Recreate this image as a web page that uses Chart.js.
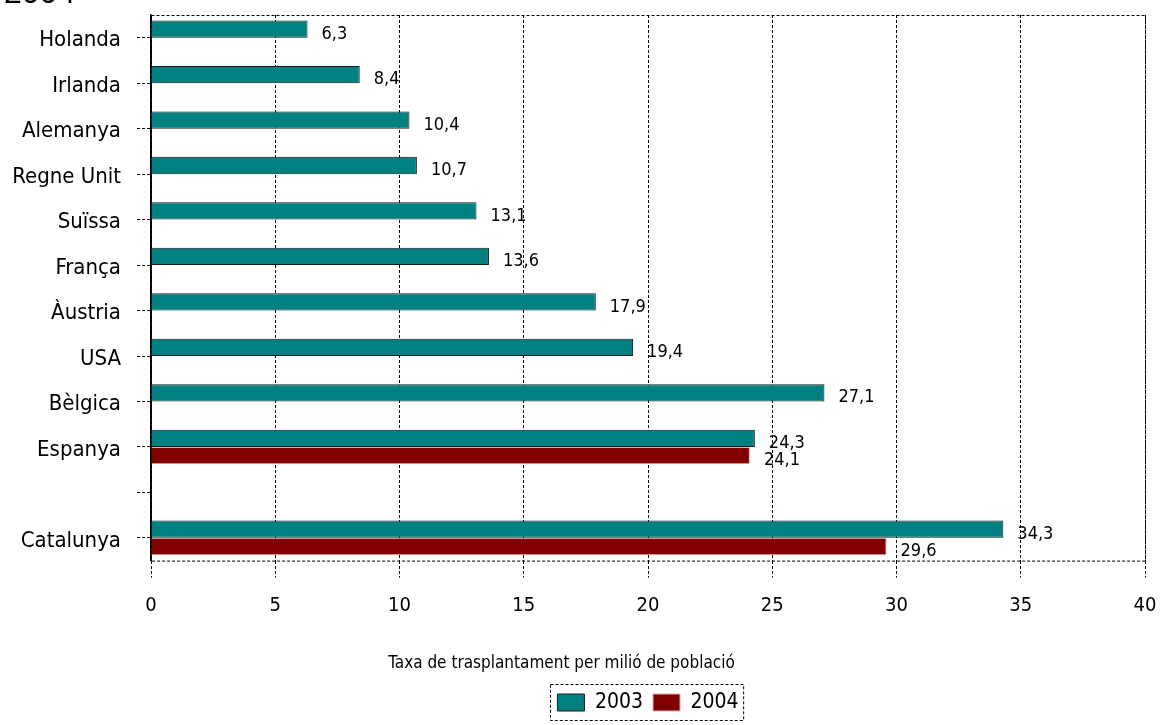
<!DOCTYPE html>
<html>
<head>
<meta charset="utf-8">
<script src="https://cdn.jsdelivr.net/npm/chart.js@4"></script>
<style>
  body { margin: 0; background: #fff; overflow: hidden; }
  #wrap { position: relative; width: 1161px; height: 725px; }
  #top { position: absolute; left: 4px; top: -24px; font: 32px/1 "Liberation Sans", Arial, sans-serif; color: #000; }
</style>
</head>
<body>
<div id="wrap">
  <canvas id="myChart" width="1161" height="725"></canvas>
  <div id="top">2004</div>
</div>
<script>
"use strict";

// data
let countries = ['Holanda', 'Irlanda', 'Alemanya', 'Regne Unit', 'Suïssa', 'França', 'Àustria', 'USA', 'Bèlgica', 'Espanya', '', 'Catalunya'];
let values2003 = [6.3, 8.4, 10.4, 10.7, 13.1, 13.6, 17.9, 19.4, 27.1, 24.3, null, 34.3];
let values2004 = [null, null, null, null, null, null, null, null, null, 24.1, null, 29.6];
let xTicks = [0, 5, 10, 15, 20, 25, 30, 35, 40];
let axisTitle = 'Taxa de trasplantament per milió de població';

const narrow = '"Liberation Sans Narrow", "DejaVu Sans Condensed", "Arial Narrow", sans-serif';

// value labels at the end of each bar, with comma decimals
const barLabels = {
    id: 'barLabels',
    afterDatasetsDraw(chart){
        let ctx = chart.ctx;
        ctx.save();
        ctx.font = '18px ' + narrow;
        ctx.fillStyle = '#000';
        ctx.textBaseline = 'middle';
        ctx.textAlign = 'left';
        chart.data.datasets.forEach(function(ds, i){
            let meta = chart.getDatasetMeta(i);
            meta.data.forEach(function(bar, j){
                if (ds.data[j] === null) return;
                let txt = ds.data[j].toFixed(1).replace('.', ',');
                ctx.fillText(txt, bar.x + 14, bar.y + 5);
            });
        });
        ctx.restore();
    }
};

// dashed frame round the plot and round the legend
const frames = {
    id: 'frames',
    beforeDraw(chart){
        // the axis title sits a little left of the centre
        let tb = chart.titleBlock;
        if (tb && !tb._moved){
            tb.left -= 11;
            tb.right -= 11;
            tb._moved = true;
        }
    },
    beforeDatasetsDraw(chart){
        let a = chart.chartArea;
        let ctx = chart.ctx;
        ctx.save();
        ctx.strokeStyle = '#000';
        ctx.lineWidth = 1;
        ctx.setLineDash([3, 2]);
        ctx.strokeRect(a.left + 0.5, a.top + 0.5, a.right - a.left, a.bottom - a.top);
        ctx.restore();
    },
    afterDraw(chart){
        let boxes = chart.legend.legendHitBoxes;
        if (!boxes || !boxes.length) return;
        let l = Math.min(...boxes.map(b => b.left));
        let r = Math.max(...boxes.map(b => b.left + b.width));
        let t = Math.min(...boxes.map(b => b.top));
        let btm = Math.max(...boxes.map(b => b.top + b.height));
        let ctx = chart.ctx;
        ctx.save();
        ctx.strokeStyle = '#000';
        ctx.lineWidth = 1;
        ctx.setLineDash([3, 2]);
        ctx.strokeRect(Math.round(l) - 6.5, Math.round(t) - 7.5, r - l + 12, btm - t + 15);
        ctx.restore();
    }
};

const ctx = document.getElementById('myChart').getContext('2d');
const myChart = new Chart(ctx, {
    type: 'bar',
    data: {
        labels: countries,
        datasets: [{
            label: '2003',
            data: values2003,
            backgroundColor: '#008080',
            borderColor: '#1a1a1a',
            borderWidth: 1,
            categoryPercentage: 0.76,
            barPercentage: 1
        }, {
            label: '2004',
            data: values2004,
            backgroundColor: '#800000',
            borderColor: '#e0b0b0',
            borderWidth: 1,
            categoryPercentage: 0.76,
            barPercentage: 1
        }]
    },
    options: {
        indexAxis: 'y',
        responsive: false,
        animation: false,
        layout: { padding: { top: 15, right: 16, left: 0, bottom: 2 } },
        plugins: {
            title: {
                display: true,
                position: 'bottom',
                weight: 500,
                text: axisTitle,
                color: '#000',
                font: { family: narrow, size: 17, weight: 'normal' },
                padding: { top: 20, bottom: 8 }
            },
            tooltip: { enabled: false },
            legend: {
                position: 'bottom',
                fullSize: false,
                labels: {
                    color: '#000',
                    font: { family: narrow, size: 21 },
                    boxWidth: 27,
                    boxHeight: 17,
                    padding: 10
                }
            }
        },
        scales: {
            x: {
                min: 0,
                max: 40,
                afterBuildTicks(scale){
                    scale.ticks = xTicks.map(v => ({ value: v }));
                },
                afterFit(scale){
                    scale.paddingLeft = 0;
                    scale.paddingRight = 0;
                },
                ticks: {
                    color: '#000',
                    font: { family: narrow, size: 20 },
                    padding: 16
                },
                grid: {
                    color: '#000',
                    lineWidth: 1,
                    tickLength: 17,
                    tickBorderDash: [3, 2]
                },
                border: { display: false, dash: [3, 2] }
            },
            y: {
                afterFit(scale){
                    scale.width = 151;
                    scale.paddingTop = 0;
                    scale.paddingBottom = 0;
                },
                ticks: {
                    color: '#000',
                    font: { family: narrow, size: 22 },
                    padding: 16,
                    labelOffset: 3,
                    autoSkip: false
                },
                grid: {
                    offset: false,
                    drawOnChartArea: false,
                    color: '#000',
                    tickLength: 14,
                    tickBorderDash: [3, 2]
                },
                border: { display: true, color: '#000', width: 1.5 }
            }
        }
    },
    plugins: [barLabels, frames]
});
</script>
</body>
</html>
